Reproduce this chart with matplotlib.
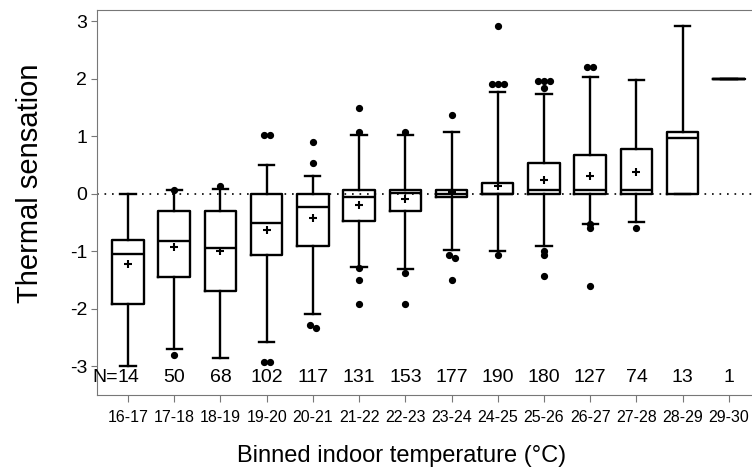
import numpy as np
import matplotlib
matplotlib.use("Agg")
import matplotlib.pyplot as plt

plt.rcParams['font.family'] = ['Liberation Sans', 'DejaVu Sans']

bins = ["16-17", "17-18", "18-19", "19-20", "20-21", "21-22", "22-23",
        "23-24", "24-25", "25-26", "26-27", "27-28", "28-29", "29-30"]
counts = [14, 50, 68, 102, 117, 131, 153, 177, 190, 180, 127, 74, 13, 1]

whis_lo = [-3.0, -2.70, -2.86, -2.57, -2.09, -1.27, -1.30, -0.97, -1.0, -0.91, -0.52, -0.49, 0.0, 2.0]
q1 = [-1.91, -1.45, -1.69, -1.06, -0.90, -0.47, -0.29, -0.06, 0.0, 0.0, 0.0, 0.0, 0.0, 2.0]
medians = [-1.04, -0.82, -0.94, -0.50, -0.23, -0.06, 0.01, 0.0, 0.0, 0.06, 0.06, 0.06, 0.97, 2.0]
q3 = [-0.80, -0.29, -0.29, 0.0, 0.0, 0.06, 0.06, 0.06, 0.19, 0.54, 0.67, 0.78, 1.08, 2.0]
whis_hi = [0.0, 0.06, 0.08, 0.50, 0.31, 1.02, 1.02, 1.08, 1.78, 1.73, 2.04, 1.98, 2.93, 2.0]
# no mean marker is visible for the last two bins
means = [-1.22, -0.92, -0.99, -0.625, -0.42, -0.20, -0.09, 0.03, 0.14, 0.24, 0.31, 0.38, np.nan, np.nan]
outliers = [
    [],
    [0.06, -2.80],
    [0.13],
    [1.02, 1.02, -2.92, -2.92],
    [0.90, 0.54, -2.29, -2.33],
    [1.50, 1.08, -1.29, -1.49, -1.91],
    [1.08, -1.37, -1.91],
    [1.38, -1.06, -1.12, -1.49],
    [2.93, 1.92, 1.92, 1.92, -1.07],
    [1.97, 1.97, 1.97, 1.85, -1.0, -1.07, -1.43],
    [2.21, 2.21, -0.53, -0.59, -1.61],
    [-0.59],
    [],
    [],
]

W, H = 752, 474
fig = plt.figure(figsize=(W / 100, H / 100), dpi=100)
ax = fig.add_axes([97 / W, 1 - 395 / H, 1 - 97 / W, (395 - 10) / H])

pos = np.arange(len(bins))
stats = []
for i in range(len(bins)):
    stats.append(dict(med=medians[i], q1=q1[i], q3=q3[i], whislo=whis_lo[i],
                      whishi=whis_hi[i], fliers=[]))

lp = dict(color="black", linewidth=1.7)
ax.bxp(stats, positions=pos, widths=0.68, capwidths=0.33, showmeans=False,
       showfliers=False, boxprops=lp, whiskerprops=lp, capprops=lp,
       medianprops=lp)

ax.plot(pos, means, "+", color="black", markersize=6, markeredgewidth=1.5,
        linestyle="none", zorder=4)

# outliers, near-equal values spread sideways like the original
for i, vals in enumerate(outliers):
    if not vals:
        continue
    vals = np.array(vals)
    groups = np.round(vals, 1)
    for g in np.unique(groups):
        sel = vals[groups == g]
        k = len(sel)
        xs = pos[i] + (np.arange(k) - (k - 1) / 2) * 0.13
        ax.plot(xs, sel, "o", color="black", markersize=4.2, linestyle="none")

ax.axhline(0, color="black", linestyle=(0, (1, 3.5)), linewidth=1.2, zorder=0)

for i, n in enumerate(counts):
    ax.text(pos[i], -3.2, str(n), ha="center", va="center", fontsize=14)
ax.annotate("N=", (pos[0], -3.2), xytext=(-7.5, 0), textcoords="offset points",
            ha="right", va="center", fontsize=14)

ax.set_xlim(-0.67, 13.5)
ax.set_ylim(-3.5, 3.2)
ax.set_xticks(pos)
ax.set_xticklabels(bins, fontsize=11.5)
ax.set_yticks([-3, -2, -1, 0, 1, 2, 3])
ax.set_yticklabels(["-3", "-2", "-1", "0", "1", "2", "3"], fontsize=14)
ax.tick_params(axis="x", length=5, color="#777777", pad=6)
ax.tick_params(axis="y", length=4, color="#777777", pad=3)
for s in ["left", "top", "bottom"]:
    ax.spines[s].set_color("#777777")
ax.spines["right"].set_visible(False)

fig.text(30 / W, 1 - 183 / H, "Thermal sensation", rotation=90, ha="center",
         va="center", fontsize=21)
fig.text(402 / W, 1 - 456 / H, "Binned indoor temperature (\u00b0C)", ha="center",
         va="center", fontsize=17)

fig.savefig("out.png", dpi=100)
